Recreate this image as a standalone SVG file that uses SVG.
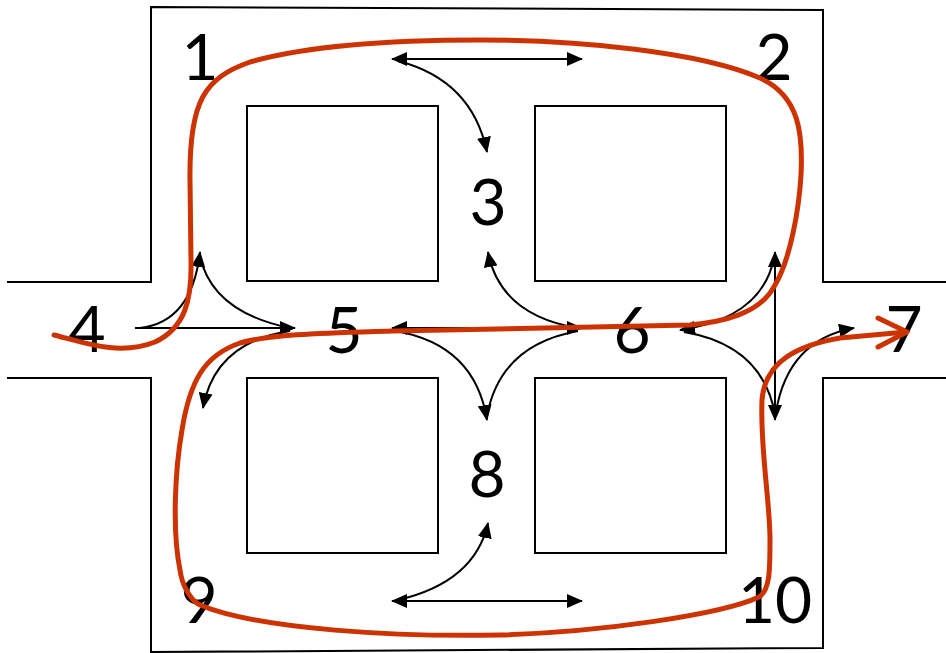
<svg xmlns="http://www.w3.org/2000/svg" width="946" height="653" viewBox="0 0 946 653">
<defs>
<marker id="ah" viewBox="0 0 16 14" refX="15" refY="7" markerWidth="16" markerHeight="14" markerUnits="userSpaceOnUse" orient="auto-start-reverse">
<path d="M0,0 L16,7 L0,14 Z" fill="#000"/>
</marker>
</defs>
<style>
.wall{fill:none;stroke:#000;stroke-width:2}
.blk{fill:#fff;stroke:#000;stroke-width:2}
.arr{fill:none;stroke:#000;stroke-width:2}
.lbl{font-family:Lato,"DejaVu Sans",sans-serif;font-size:64px;fill:#000;text-anchor:middle}
.route{fill:none;stroke:#CC3300;stroke-width:5;stroke-linecap:round;stroke-linejoin:round}
</style>
<rect width="946" height="653" fill="#fff"/>
<g id="walls">
<path class="wall" d="M7 282 L151 282 L151 7 L823 10 L823 282 L946 282"/>
<path class="wall" d="M7 378 L151 378 L151 652 L823 648 L823 378 L946 378"/>
</g>
<g id="blocks">
<rect class="blk" x="247" y="106" width="191" height="175"/>
<rect class="blk" x="535" y="106" width="191" height="175"/>
<rect class="blk" x="247" y="378" width="191" height="175"/>
<rect class="blk" x="535" y="378" width="191" height="175"/>
</g>
<g id="connectors">
<path class="arr" d="M392 59 L582 59" marker-start="url(#ah)" marker-end="url(#ah)"/>
<path class="arr" d="M398 61 Q472 80 487 152" marker-end="url(#ah)"/>
<path class="arr" d="M392 601 L582 601" marker-start="url(#ah)" marker-end="url(#ah)"/>
<path class="arr" d="M398 600 Q475 582 488 523" marker-end="url(#ah)"/>
<path class="arr" d="M135 328 L295 328" marker-end="url(#ah)"/>
<path class="arr" d="M140 328 Q192 322 200 252" marker-end="url(#ah)"/>
<path class="arr" d="M200 256 Q212 312 290 328"/>
<path class="arr" d="M290 331 Q215 342 203 408" marker-end="url(#ah)"/>
<path class="arr" d="M392 328 L582 328" marker-start="url(#ah)" marker-end="url(#ah)"/>
<path class="arr" d="M578 328 Q500 315 488 252" marker-end="url(#ah)"/>
<path class="arr" d="M396 331 Q475 345 487 420" marker-end="url(#ah)"/>
<path class="arr" d="M578 331 Q500 345 487 416"/>
<path class="arr" d="M775 252 L775 420" marker-start="url(#ah)" marker-end="url(#ah)"/>
<path class="arr" d="M774 258 Q762 318 680 330" marker-end="url(#ah)"/>
<path class="arr" d="M684 332 Q762 345 775 414"/>
<path class="arr" d="M776 412 Q788 340 854 328" marker-end="url(#ah)"/>
</g>
<g id="labels">
<g id="n1"><text class="lbl" x="200" y="80">1</text></g>
<g id="n2"><text class="lbl" x="774" y="80">2</text></g>
<g id="n3"><text class="lbl" x="488" y="225">3</text></g>
<g id="n4"><text class="lbl" x="87" y="352">4</text></g>
<g id="n5"><text class="lbl" x="344" y="353">5</text></g>
<g id="n6"><text class="lbl" x="632" y="353">6</text></g>
<g id="n7"><text class="lbl" x="904" y="352">7</text></g>
<g id="n8"><text class="lbl" x="487" y="497">8</text></g>
<g id="n9"><text class="lbl" x="199" y="623">9</text></g>
<g id="n10"><text class="lbl" x="775" y="623">10</text></g>
</g>
<g id="route">
<path class="route" d="M54 335 C85 343 120 356 155 342 C185 328 192 300 191 260 L190 180 C189 100 205 78 250 62 C320 42 420 40 480 40 C580 40 700 52 760 78 C800 96 803 135 801 175 C799 210 790 260 775 285 C760 315 720 322 690 325 L393 331 C330 333 270 334 240 343 C205 355 190 380 182 430 C175 470 172 530 180 570 C182 585 190 600 200 605 C260 630 400 637 500 635 C600 632 720 615 759 597 C770 590 770 570 770 540 C770 500 760 450 762 400 C765 360 800 345 840 338 L906 332"/>
<path class="route" d="M878 318 L907 332 L878 347"/>
</g>
</svg>
